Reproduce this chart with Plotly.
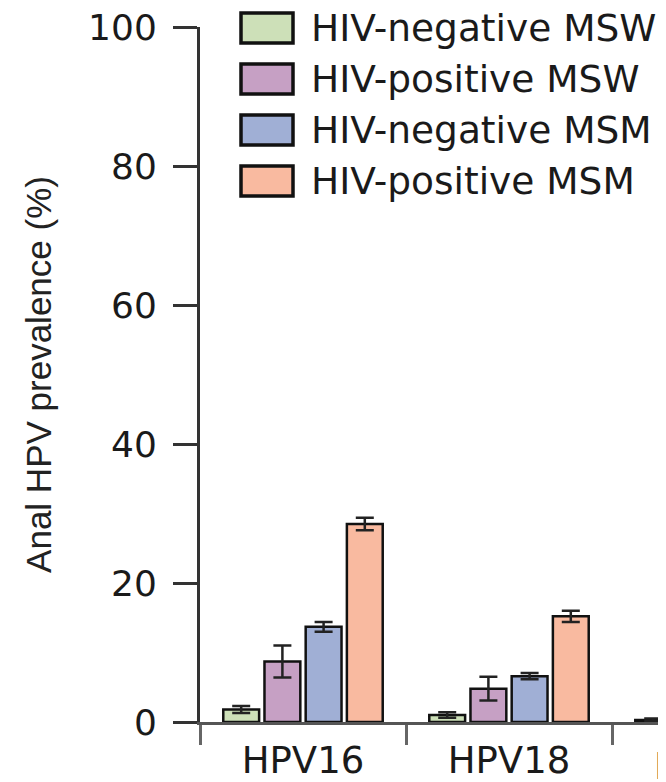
import plotly.graph_objects as go

categories = ["HPV16", "HPV18", "HPV31"]
series_names = ["HIV-negative MSW", "HIV-positive MSW", "HIV-negative MSM", "HIV-positive MSM"]
colors = ["#cde0b8", "#c6a0c4", "#a0afd5", "#f9baa0"]

neg_msw = [1.8, 1.0, 0.3]
pos_msw = [8.7, 4.8, None]
neg_msm = [13.7, 6.6, None]
pos_msm = [28.5, 15.2, None]

neg_msw_err = [0.5, 0.4, 0.2]
pos_msw_err = [2.3, 1.7, None]
neg_msm_err = [0.7, 0.45, None]
pos_msm_err = [0.9, 0.8, None]

values = [neg_msw, pos_msw, neg_msm, pos_msm]
errors = [neg_msw_err, pos_msw_err, neg_msm_err, pos_msm_err]

y_ticks = [0, 20, 40, 60, 80, 100]
y_title = "Anal HPV prevalence (%)"

# the page body adds an 8px offset, so figure coords = screen coords - 8
OFF = 8
W, H = 666, 782
ML, MR, MT = 200 - OFF, 0, 27 - OFF
MB = H - (722 - OFF)
PW = W - ML - MR
PH = H - MT - MB
CAT_PX = 206.0
X_RANGE = [-0.5, -0.5 + PW / CAT_PX]


def px_x(px):
    return (px - OFF - ML) / PW


def px_y(py):
    return (H - MB - (py - OFF)) / PH


fig = go.Figure()
for name, col, vals, errs in zip(series_names, colors, values, errors):
    fig.add_trace(go.Bar(
        x=categories, y=vals, name=name,
        marker=dict(color=col, line=dict(color="#111111", width=2.5)),
        error_y=dict(type="data", array=errs, visible=True,
                     color="#222222", thickness=2.5, width=9),
        showlegend=False,
    ))

# manual legend (large swatches)
shapes = []
annotations = []
for i, (name, col) in enumerate(zip(series_names, colors)):
    top = 13 + 51 * i
    shapes.append(dict(type="rect", xref="paper", yref="paper",
                       x0=px_x(241), x1=px_x(293), y0=px_y(top + 30), y1=px_y(top),
                       fillcolor=col, line=dict(color="#111111", width=3.5)))
    annotations.append(dict(xref="paper", yref="paper", x=px_x(309), y=px_y(top + 15),
                            xanchor="left", yanchor="middle", showarrow=False,
                            text=name, font=dict(family="DejaVu Sans", size=37.5, color="#1a1a1a")))

# label of the partially visible third category (its centre lies past the right edge)
third_frac = (2 - X_RANGE[0]) / (X_RANGE[1] - X_RANGE[0])
annotations.append(dict(xref="paper", yref="paper", x=third_frac, y=px_y(743),
                        xanchor="center", yanchor="top", showarrow=False,
                        text=categories[2],
                        font=dict(family="DejaVu Sans", size=37, color="#1a1a1a")))

fig.update_layout(
    width=W, height=H,
    margin=dict(l=ML, r=MR, t=MT, b=MB, autoexpand=False),
    paper_bgcolor="white", plot_bgcolor="white",
    barmode="group", bargap=0.2, bargroupgap=0.13,
    shapes=shapes, annotations=annotations,
    font=dict(family="DejaVu Sans", color="#1a1a1a"),
)
fig.update_xaxes(
    type="category", range=X_RANGE,
    showline=True, linecolor="#555555", linewidth=3,
    ticks="outside", tickson="boundaries", ticklen=20, tickwidth=3, tickcolor="#666666",
    tickfont=dict(family="DejaVu Sans", size=37, color="#1a1a1a"),
    ticklabelstandoff=4, ticklabeloverflow="allow",
    showgrid=False, zeroline=False, automargin=False,
)
fig.update_yaxes(
    range=[0, 100], tickvals=y_ticks,
    showline=True, linecolor="#333333", linewidth=3,
    ticks="outside", ticklen=24, tickwidth=2.5, tickcolor="#333333",
    tickfont=dict(family="DejaVu Sans", size=36, color="#1a1a1a"),
    ticklabelstandoff=9, ticklabeloverflow="allow",
    title=dict(text=y_title, standoff=26,
               font=dict(family="Liberation Sans", size=35, color="#222222")),
    showgrid=False, zeroline=False, automargin=False,
)

fig.write_html("out.html")
